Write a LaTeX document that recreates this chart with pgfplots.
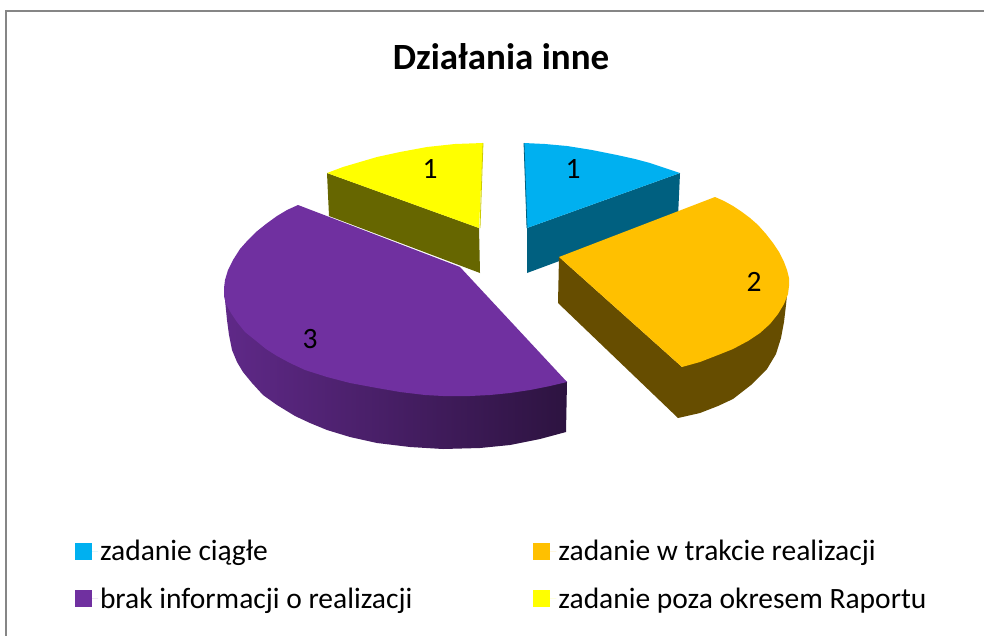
\documentclass[border=0pt]{standalone}
\usepackage{pgfplots}
\pgfplotsset{compat=1.18}
\usepackage{fontspec}
\setmainfont{Carlito}
\definecolor{cblue}{HTML}{00B0F0}
\definecolor{cblued}{HTML}{006080}
\definecolor{corange}{HTML}{FFC000}
\definecolor{coranged}{HTML}{664D00}
\definecolor{cpurple}{HTML}{7030A0}
\definecolor{cyellow}{HTML}{FFFF00}
\definecolor{cyellowd}{HTML}{666600}
\definecolor{frame}{HTML}{868686}
\begin{document}
\begin{tikzpicture}
\begin{axis}[
  scale only axis, width=984pt, height=635pt,
  xmin=0, xmax=984, ymin=0, ymax=635, y dir=reverse,
  hide axis, clip=true,
  legend columns=2,
  legend cell align=left,
  legend style={at={(axis cs:75,538)}, anchor=north west, draw=none, fill=none,
    font=\fontsize{29.5}{32}\selectfont, inner sep=0pt, outer sep=0pt,
    /tikz/every even column/.append style={column sep=119pt},
    row sep=22pt},
  legend image code/.code={\fill[#1] (0pt,-8.5pt) rectangle (17pt,8.5pt); \path (0pt,0pt) -- (23pt,0pt);},
]
\addplot[draw=none, fill=white, forget plot] coordinates {(0,0)(984,0)(984,635)(0,635)} -- cycle;
\addplot[frame, line width=1.8pt, forget plot] coordinates {(6,640)(6,11)(990,11)};

% blue slice
\addplot[draw=none, fill=cblued, forget plot] coordinates {(680,173)(527,228)(527,273)(678,217)} -- cycle;
\addplot[draw=none, fill=cblue] coordinates {(524,143)(545,144)(567,146)(592,150)(617,155)(635,159)(650,163)(665,168)(680,173)(527,228)} -- cycle;
\addlegendentry{zadanie ciągłe}
\addplot[cblued, line width=0.8pt, forget plot] coordinates {(524,143)(527,228)};

% orange slice
\addplot[draw=none, fill=coranged, forget plot] coordinates {(559,257)(558,303)(678,418)(700,413)(718,406)(733,399)(751,385)(767,369)(776,354)(781,338)(784,322)(786,305)(788,285)(682,367)} -- cycle;
\addplot[draw=none, fill=corange] coordinates {(559,257)(715,197)(724,201)(733,206)(742,212)(750,218)(758,225)(766,234)(773,243)(779,252)(784,262)(787,270)(789,278)(789,286)(788,294)(784,304)(778,314)(770,324)(760,333)(748,341)(733,349)(718,355)(700,362)(682,367)} -- cycle;
\addlegendentry{zadanie w trakcie realizacji}

% purple slice
\addplot[draw=none, left color=cpurple!85!black, middle color=cpurple!65!black, right color=cpurple!40!black, forget plot] coordinates {(224,290)(227,320)(229,335)(232,350)(237,362)(243,372)(252,383)(263,395)(277,405)(295,416)(310,423)(327,430)(350,437)(377,443)(410,447)(443,449)(480,448)(510,445)(540,439)(566,432)(567,382)(460,300)} -- cycle;
\addplot[draw=none, fill=cpurple] coordinates {(298,205)(460,267)(567,382)(550,386)(530,390)(510,393)(490,395)(470,396)(443,396)(425,395)(400,392)(377,388)(350,383)(327,377)(305,370)(290,363)(277,356)(266,349)(255,340)(245,332)(237,322)(231,313)(226,304)(224,296)(224,288)(225,280)(228,270)(233,260)(240,249)(248,240)(256,232)(266,224)(277,216)(287,210)} -- cycle;
\addlegendentry{brak informacji o realizacji}

% yellow slice
\addplot[draw=none, fill=cyellowd, forget plot] coordinates {(327,173)(329,216)(480,273)(479,228)} -- cycle;
\addplot[draw=none, fill=cyellow] coordinates {(483,143)(455,144)(427,147)(400,152)(377,157)(360,162)(343,167)(327,173)(479,228)} -- cycle;
\addlegendentry{zadanie poza okresem Raportu}
\addplot[cyellow!80!black, line width=0.8pt, forget plot] coordinates {(483,143)(480,228)};

\node[font=\fontsize{29.5}{32}\selectfont] at (axis cs:430,169) {1};
\node[font=\fontsize{29.5}{32}\selectfont] at (axis cs:573,169) {1};
\node[font=\fontsize{29.5}{32}\selectfont] at (axis cs:754,282) {2};
\node[font=\fontsize{29.5}{32}\selectfont] at (axis cs:310,339) {3};
\node[font=\fontsize{37}{40}\selectfont\bfseries] at (axis cs:501,57) {Działania inne};
\end{axis}
\end{tikzpicture}
\end{document}
